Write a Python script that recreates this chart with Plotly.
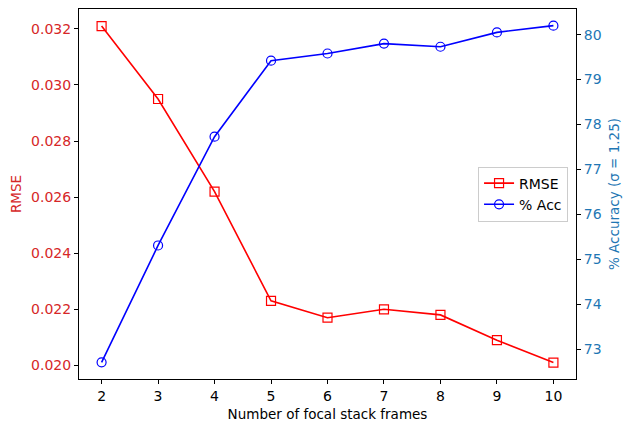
import plotly.graph_objects as go

frames = [2, 3, 4, 5, 6, 7, 8, 9, 10]
rmse = [0.0321, 0.0295, 0.0262, 0.0223, 0.0217, 0.0220, 0.0218, 0.0209, 0.0201]
acc = [72.71, 75.31, 77.73, 79.42, 79.58, 79.80, 79.73, 80.05, 80.20]

font = "DejaVu Sans"
fig = go.Figure()
fig.add_trace(go.Scatter(x=frames, y=rmse, name="RMSE", mode="lines+markers",
                         line=dict(color="red", width=1.6),
                         marker=dict(symbol="square-open", size=9, color="red", line=dict(width=1.2))))
fig.add_trace(go.Scatter(x=frames, y=acc, name="% Acc", mode="lines+markers", yaxis="y2",
                         line=dict(color="blue", width=1.6),
                         marker=dict(symbol="circle-open", size=9, color="blue", line=dict(width=1.2))))

fig.update_layout(
    width=623, height=424,
    margin=dict(l=71, r=55, t=1, b=53, autoexpand=False),
    plot_bgcolor="white", paper_bgcolor="white",
    font=dict(family=font, size=14, color="black"),
    xaxis=dict(range=[1.6, 10.4], tickvals=frames, showgrid=False, zeroline=False,
               showline=True, linecolor="black", linewidth=1, mirror=True,
               ticks="outside", ticklen=4, tickcolor="black",
               title=dict(text="Number of focal stack frames", font=dict(size=13.5), standoff=6)),
    yaxis=dict(range=[0.019514, 0.03271], tickvals=[0.020, 0.022, 0.024, 0.026, 0.028, 0.030, 0.032],
               tickformat=".3f", showgrid=False, zeroline=False,
               showline=True, linecolor="black", linewidth=1,
               ticks="outside", ticklen=4, tickcolor="black",
               tickfont=dict(color="#d62728"),
               title=dict(text="RMSE", font=dict(color="#d62728", size=13.5), standoff=8)),
    yaxis2=dict(range=[72.34, 80.57], tickvals=[73, 74, 75, 76, 77, 78, 79, 80],
                overlaying="y", side="right", showgrid=False, zeroline=False,
                showline=True, linecolor="black", linewidth=1,
                ticks="outside", ticklen=4, tickcolor="black",
                tickfont=dict(color="#1f77b4"),
                title=dict(text="% Accuracy (σ = 1.25)", font=dict(color="#1f77b4", size=13.5), standoff=8)),
    legend=dict(x=0.984, y=0.5, xanchor="right", yanchor="middle",
                bgcolor="rgba(255,255,255,0.8)", bordercolor="#cccccc", borderwidth=1,
                font=dict(size=14), tracegroupgap=0),
    showlegend=True,
)

fig.write_html("out.html")
